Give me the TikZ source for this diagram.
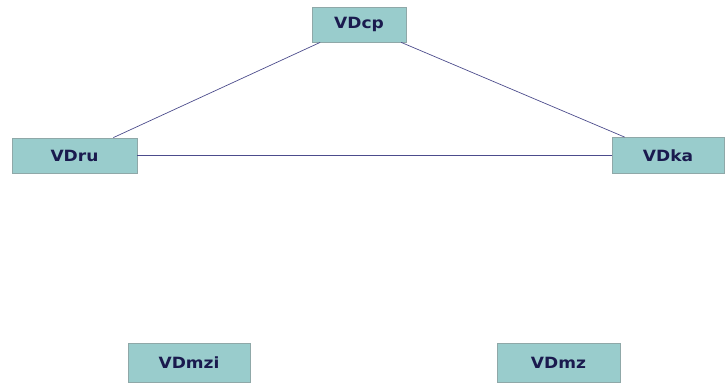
\documentclass[tikz,border=0pt]{standalone}
\usepackage{fontspec}
\setmainfont{DejaVu Sans}[FakeStretch=1.1]
\definecolor{boxfill}{HTML}{99CCCC}
\definecolor{boxline}{HTML}{8FA8A8}
\definecolor{txt}{HTML}{1A1A4E}
\definecolor{edge}{HTML}{4C4C8C}
\tikzset{
  vbox/.style={draw=boxline, fill=boxfill, line width=0.8pt, inner sep=0pt,
    font=\fontsize{15.5}{15.5}\selectfont\bfseries, text=txt},
  link/.style={draw=edge, line width=0.7pt}
}
\begin{document}
\begin{tikzpicture}[x=1pt,y=-1pt]
\useasboundingbox (0,0) rectangle (726,383);
\node[vbox, minimum width=94pt, minimum height=35pt] (cp) at (359,24.5) {VDcp};
\node[vbox, minimum width=125pt, minimum height=35pt] (ru) at (74.5,155.5) {VDru};
\node[vbox, minimum width=112pt, minimum height=36pt] (ka) at (668,155.5) {VDka};
\node[vbox, minimum width=122pt, minimum height=39pt] (mzi) at (189,362.5) {VDmzi};
\node[vbox, minimum width=123pt, minimum height=39pt] (mz) at (558.5,362.5) {VDmz};
\draw[link] (cp) -- (ru);
\draw[link] (cp) -- (ka);
\draw[link] (ru) -- (ka);
\end{tikzpicture}
\end{document}
